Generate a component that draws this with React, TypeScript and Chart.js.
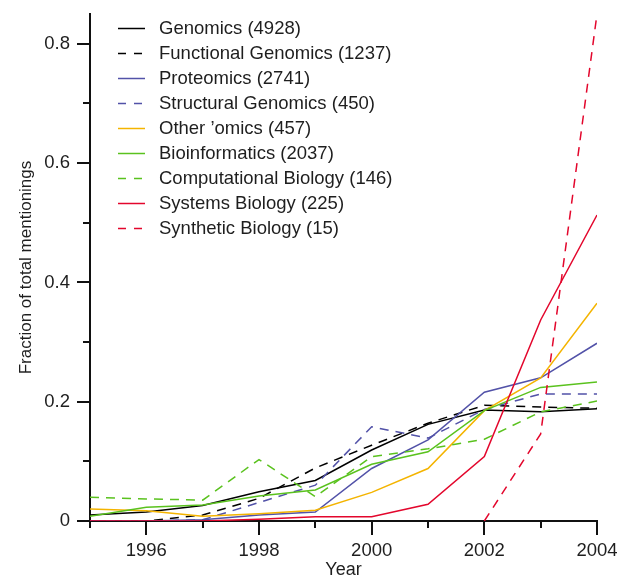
import React, { useEffect, useRef } from "react";
import { Chart, registerables } from "chart.js";

Chart.register(...registerables);

const FONT = "'Liberation Sans', Arial, Helvetica, sans-serif";
const TEXT = "#1e1e1e";

// ---- data ----
const years = [1995, 1996, 1997, 1998, 1999, 2000, 2001, 2002, 2003, 2004];

const genomics = [0.010, 0.015, 0.026, 0.049, 0.068, 0.119, 0.162, 0.186, 0.183, 0.188];
const functionalGenomics = [0, 0, 0.010, 0.038, 0.089, 0.127, 0.164, 0.194, 0.191, 0.189];
const proteomics = [0, 0, 0.002, 0.010, 0.015, 0.088, 0.136, 0.216, 0.240, 0.298];
const structuralGenomics = [0, 0, 0.002, 0.031, 0.060, 0.158, 0.139, 0.187, 0.213, 0.213];
const otherOmics = [0.020, 0.017, 0.008, 0.012, 0.018, 0.048, 0.088, 0.185, 0.240, 0.365];
const bioinformatics = [0.008, 0.023, 0.027, 0.042, 0.052, 0.095, 0.116, 0.185, 0.224, 0.233];
const computationalBiology = [0.040, 0.037, 0.035, 0.103, 0.041, 0.108, 0.121, 0.137, 0.183, 0.201];
const systemsBiology = [0, 0, 0, 0.003, 0.007, 0.007, 0.028, 0.108, 0.337, 0.513];
const syntheticBiology = [null, null, null, null, null, null, null, 0, 0.146, 0.85];

const seriesLabels = [
  "Genomics (4928)",
  "Functional Genomics (1237)",
  "Proteomics (2741)",
  "Structural Genomics (450)",
  "Other \u2019omics (457)",
  "Bioinformatics (2037)",
  "Computational Biology (146)",
  "Systems Biology (225)",
  "Synthetic Biology (15)",
];

const yTickValues = [0, 0.2, 0.4, 0.6, 0.8];
const yTickLabels = ["0", "0.2", "0.4", "0.6", "0.8"];
const xTickLabels = ["1996", "1998", "2000", "2002", "2004"];
const xTitle = "Year";
const yTitle = "Fraction of total mentionings";

const BLACK = "#000000";
const BLUE = "#5252a8";
const ORANGE = "#f4b400";
const GREEN = "#5ac21e";
const RED = "#e3062c";

const seriesData = [
  genomics,
  functionalGenomics,
  proteomics,
  structuralGenomics,
  otherOmics,
  bioinformatics,
  computationalBiology,
  systemsBiology,
  syntheticBiology,
];
const seriesColors = [BLACK, BLACK, BLUE, BLUE, ORANGE, GREEN, GREEN, RED, RED];
const seriesDashed = [false, true, false, true, false, false, true, false, true];

const DASH = [9, 7];

const zeroPadding = (scale: any) => {
  scale.paddingTop = 0;
  scale.paddingBottom = 0;
  scale.paddingLeft = 0;
  scale.paddingRight = 0;
};

const customPlugin = {
  id: "customDecor",
  afterDraw(chart: any) {
    const ctx: CanvasRenderingContext2D = chart.ctx;
    const xs = chart.scales.x;
    const ys = chart.scales.y;
    const area = chart.chartArea;
    ctx.save();
    // tick marks
    ctx.strokeStyle = "#111";
    ctx.lineWidth = 2;
    ctx.setLineDash([]);
    for (let i = 0; i < years.length; i++) {
      const yr = years[i];
      const px = Math.round(xs.getPixelForValue(yr));
      const len = yr % 2 === 0 ? 14 : 7;
      ctx.beginPath();
      ctx.moveTo(px, area.bottom);
      ctx.lineTo(px, area.bottom + len);
      ctx.stroke();
    }
    for (let k = 0; k <= 8; k++) {
      const py = Math.round(ys.getPixelForValue(k / 10));
      const len = k % 2 === 0 ? 13 : 7;
      ctx.beginPath();
      ctx.moveTo(area.left, py);
      ctx.lineTo(area.left - len, py);
      ctx.stroke();
    }
    // legend
    const lx0 = 118;
    const lx1 = 145;
    const tx = 159;
    const top = 28.5;
    const step = 25;
    ctx.font = `18.5px ${FONT}`;
    ctx.textBaseline = "middle";
    ctx.textAlign = "left";
    chart.data.datasets.forEach((ds: any, i: number) => {
      const y = top + i * step;
      ctx.strokeStyle = ds.borderColor;
      ctx.lineWidth = 1.5;
      ctx.setLineDash(seriesDashed[i] ? [8, 8] : []);
      ctx.beginPath();
      ctx.moveTo(lx0, y);
      ctx.lineTo(lx1, y);
      ctx.stroke();
      ctx.setLineDash([]);
      ctx.fillStyle = TEXT;
      ctx.fillText(ds.label, tx, y);
    });
    ctx.restore();
  },
};

export default function App() {
  const ref = useRef<HTMLCanvasElement | null>(null);

  useEffect(() => {
    if (!ref.current) return;
    const datasets = seriesData.map((arr, i) => ({
      label: seriesLabels[i],
      data: years.map((yr, j) => ({ x: yr, y: arr[j] })),
      borderColor: seriesColors[i],
      backgroundColor: seriesColors[i],
      borderWidth: 1.5,
      borderDash: seriesDashed[i] ? DASH : [],
      pointRadius: 0,
      pointHoverRadius: 0,
      tension: 0,
      fill: false,
      spanGaps: false,
      order: seriesData.length - i,
    }));

    const chart = new Chart(ref.current, {
      type: "line",
      data: { datasets },
      plugins: [customPlugin],
      options: {
        animation: false,
        responsive: false,
        maintainAspectRatio: false,
        events: [],
        layout: { padding: { top: 14, right: 22, left: 0, bottom: 0 } },
        plugins: {
          legend: { display: false },
          tooltip: { enabled: false },
          title: { display: false },
        },
        scales: {
          x: {
            type: "linear",
            min: 1995,
            max: 2004,
            grid: { display: false, drawTicks: false },
            border: { display: true, color: "#111", width: 2 },
            ticks: {
              stepSize: 1,
              autoSkip: false,
              maxRotation: 0,
              includeBounds: false,
              padding: 19,
              color: TEXT,
              font: { family: FONT, size: 18.5 },
              callback: (v: any) => {
                const s = String(v);
                return xTickLabels.includes(s) ? s : "";
              },
            },
            title: {
              display: true,
              text: xTitle,
              color: TEXT,
              font: { family: FONT, size: 18 },
              padding: { top: 0, bottom: -6 },
            },
            afterFit: (scale: any) => {
              scale.height = 54;
              zeroPadding(scale);
            },
          },
          y: {
            type: "linear",
            min: 0,
            max: 0.85,
            grid: { display: false, drawTicks: false },
            border: { display: true, color: "#111", width: 2 },
            ticks: {
              stepSize: 0.2,
              autoSkip: false,
              includeBounds: false,
              padding: 20,
              color: TEXT,
              font: { family: FONT, size: 18.5 },
              callback: (v: any) => {
                const idx = yTickValues.findIndex((t) => Math.abs(t - Number(v)) < 1e-6);
                return idx >= 0 ? yTickLabels[idx] : "";
              },
            },
            title: {
              display: true,
              text: yTitle,
              color: TEXT,
              font: { family: FONT, size: 17 },
              padding: { top: 16, bottom: 0 },
            },
            afterFit: (scale: any) => {
              scale.width = 90;
              zeroPadding(scale);
            },
          },
        },
      },
    });
    return () => chart.destroy();
  }, []);

  return (
    <div style={{ position: "fixed", left: 0, top: 0, width: 619, height: 575, background: "#fff" }}>
      <canvas ref={ref} width={619} height={575} style={{ display: "block" }} />
    </div>
  );
}
